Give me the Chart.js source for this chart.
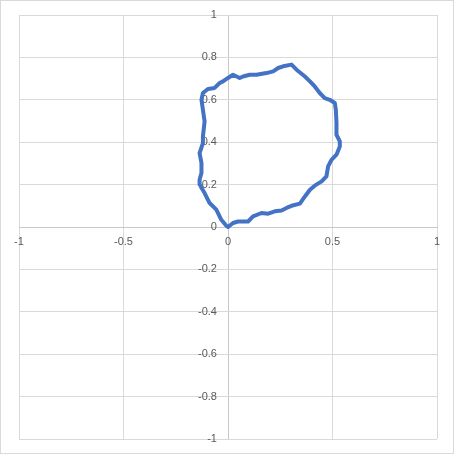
<!DOCTYPE html>
<html>
<head>
<meta charset="utf-8">
<script src="https://cdn.jsdelivr.net/npm/chart.js@4"></script>
<style>
  html, body { margin: 0; padding: 0; background: #fff; }
  #wrap { width: 452px; height: 452px; border: 1px solid #D9D9D9; }
</style>
</head>
<body>
<div id="wrap"><canvas id="chart" width="452" height="452"></canvas></div>
<script>
// traced outline
const xs = [0, 0.024, 0.048, 0.096, 0.120, 0.160, 0.192, 0.224, 0.256, 0.280, 0.304, 0.344,
  0.368, 0.392, 0.415, 0.448, 0.471, 0.479, 0.495, 0.519, 0.535, 0.535, 0.519, 0.519,
  0.516, 0.511, 0.487, 0.463, 0.439, 0.415, 0.392, 0.368, 0.328, 0.304, 0.264, 0.240,
  0.216, 0.184, 0.136, 0.104, 0.072, 0.056, 0.024, 0, -0.024, -0.040, -0.064, -0.096,
  -0.120, -0.127, -0.120, -0.112, -0.120, -0.120, -0.136, -0.127, -0.127, -0.136, -0.136,
  -0.112, -0.088, -0.056, -0.032, -0.008, 0];
const ys = [0, 0.019, 0.026, 0.026, 0.050, 0.066, 0.063, 0.074, 0.078, 0.090, 0.100, 0.110,
  0.144, 0.176, 0.195, 0.215, 0.239, 0.286, 0.317, 0.341, 0.380, 0.404, 0.435, 0.491,
  0.553, 0.585, 0.600, 0.608, 0.632, 0.663, 0.687, 0.710, 0.742, 0.766, 0.758, 0.750,
  0.734, 0.726, 0.718, 0.718, 0.710, 0.703, 0.718, 0.703, 0.687, 0.679, 0.656, 0.651,
  0.632, 0.600, 0.553, 0.498, 0.427, 0.396, 0.349, 0.302, 0.255, 0.223, 0.200,
  0.160, 0.113, 0.082, 0.034, 0.006, 0];
const xTicks = [-1, -0.5, 0, 0.5, 1];
const yTicks = [-1, -0.8, -0.6, -0.4, -0.2, 0, 0.2, 0.4, 0.6, 0.8, 1];

const points = xs.map((x, i) => ({ x: x, y: ys[i] }));
const tickFont = { family: 'Liberation Sans', size: 11 };
const gridColor = ctx => ctx.tick && ctx.tick.value === 0 ? '#C8C8C8' : '#D9D9D9';

new Chart(document.getElementById('chart'), {
  type: 'scatter',
  data: {
    datasets: [{
      data: points,
      showLine: true,
      borderColor: '#4472C4',
      borderWidth: 4,
      pointRadius: 0,
      tension: 0,
      borderJoinStyle: 'round',
      borderCapStyle: 'round'
    }]
  },
  options: {
    responsive: false,
    animation: false,
    layout: { padding: { left: 18, right: 16, top: 14, bottom: 14 } },
    plugins: { legend: { display: false }, tooltip: { enabled: false } },
    scales: {
      x: {
        type: 'linear', position: { y: 0 }, min: -1, max: 1,
        afterBuildTicks: s => { s.ticks = xTicks.map(v => ({ value: v })); },
        grid: { color: gridColor, drawTicks: false },
        border: { color: '#C8C8C8' },
        ticks: { color: '#595959', font: tickFont, padding: 8, callback: v => String(v) }
      },
      y: {
        // labels sit a little left of the zero line, like Excel
        type: 'linear', position: { x: -0.053 }, min: -1, max: 1,
        afterBuildTicks: s => { s.ticks = yTicks.map(v => ({ value: v })); },
        afterFit: s => { s.paddingTop = 0; s.paddingBottom = 0; },
        grid: { color: gridColor, drawTicks: false },
        border: { display: false },
        ticks: { color: '#595959', font: tickFont, padding: 10, callback: v => String(v) }
      }
    }
  }
});
</script>
</body>
</html>
